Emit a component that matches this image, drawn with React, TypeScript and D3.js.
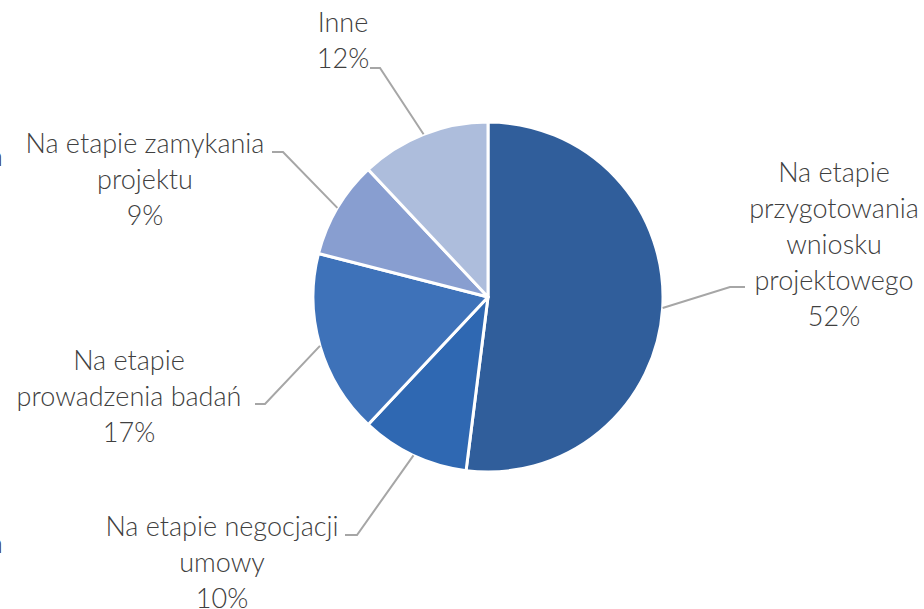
import * as d3 from 'd3';

const categories = [
  'Na etapie przygotowania wniosku projektowego',
  'Na etapie negocjacji umowy',
  'Na etapie prowadzenia badań',
  'Na etapie zamykania projektu',
  'Inne',
];
const shares = [52, 10, 17, 9, 12];
const labelLines = [
  ['Na etapie', 'przygotowania', 'wniosku', 'projektowego', '52%'],
  ['Na etapie negocjacji', 'umowy', '10%'],
  ['Na etapie', 'prowadzenia badań', '17%'],
  ['Na etapie zamykania', 'projektu', '9%'],
  ['Inne', '12%'],
];
const colors = ['#305E9B', '#2F68B2', '#3E72B9', '#889ED0', '#ADBDDC'];

// label block: center x, first baseline y, knee point, line end
const labelLayout = [
  { x: 834, y: 182, knee: [730, 287], end: [745, 287] },
  { x: 222, y: 536, knee: [357, 535], end: [345, 535] },
  { x: 129, y: 370, knee: [265, 404], end: [255, 404] },
  { x: 145, y: 153, knee: [283, 152], end: [272, 152] },
  { x: 343, y: 32, knee: [380, 68], end: [370, 68] },
];

const width = 924;
const height = 609;
const cx = 488;
const cy = 297;
const radius = 175;
const lineH = 36;

export default function App() {
  const pie = d3.pie<number>().sort(null).value((d) => d);
  const arcs = pie(shares);
  const arc = d3.arc<d3.PieArcDatum<number>>().innerRadius(0).outerRadius(radius);
  const edge = d3.arc<d3.PieArcDatum<number>>().innerRadius(radius).outerRadius(radius);

  return (
    <svg
      width={width}
      height={height}
      style={{ position: 'absolute', left: 0, top: 0, background: '#fff' }}
      fontFamily="Lato, 'Open Sans', sans-serif"
      fontWeight={300}
    >
      <g transform={`translate(${cx},${cy})`}>
        {arcs.map((a, i) => (
          <path key={categories[i]} d={arc(a) || ''} fill={colors[i]} stroke="#fff" strokeWidth={3} strokeLinejoin="round" />
        ))}
      </g>
      {arcs.map((a, i) => {
        const [ex, ey] = edge.centroid(a);
        const l = labelLayout[i];
        return (
          <polyline
            key={`l${i}`}
            points={`${cx + ex},${cy + ey} ${l.knee[0]},${l.knee[1]} ${l.end[0]},${l.end[1]}`}
            fill="none"
            stroke="#A6A6A6"
            strokeWidth={2}
          />
        );
      })}
      {labelLines.map((lines, i) => (
        <text key={`t${i}`} x={labelLayout[i].x} y={labelLayout[i].y} textAnchor="middle" fontSize={27} fill="#404040">
          {lines.map((s, j) => (
            <tspan key={j} x={labelLayout[i].x} y={labelLayout[i].y + j * lineH}>{s}</tspan>
          ))}
        </text>
      ))}
      <text x={-12} y={166} fontSize={27} fill="#404040">n</text>
      <text x={-12} y={553} fontSize={27} fill="#404040">n</text>
    </svg>
  );
}
